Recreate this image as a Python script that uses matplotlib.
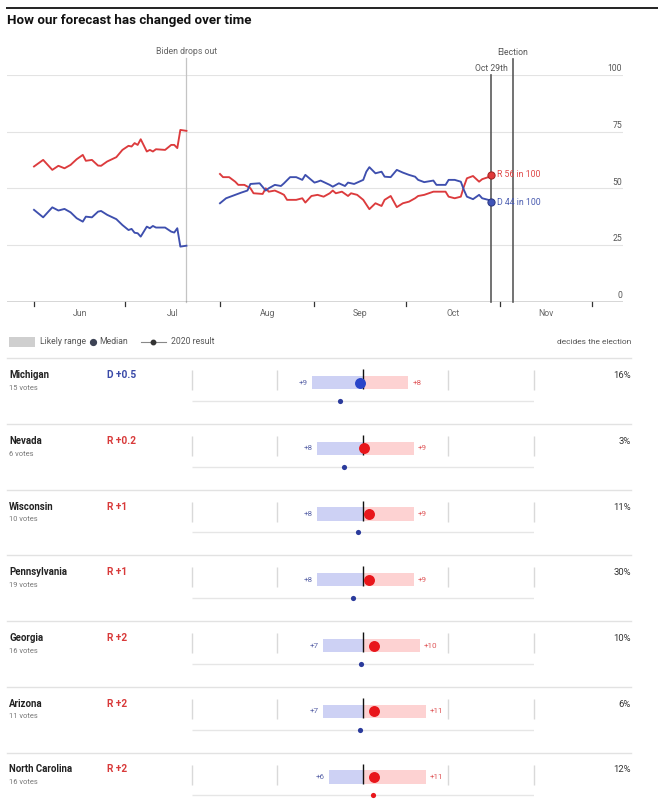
import matplotlib
matplotlib.use("Agg")
import matplotlib.pyplot as plt

plt.rcParams['font.family'] = ['Roboto', 'DejaVu Sans']

# ---------------- data ----------------
# days counted from June 1
month_names = ["Jun", "Jul", "Aug", "Sep", "Oct", "Nov"]
month_starts = [0, 30, 61, 92, 122, 153, 183]
month_mids = [15, 45.5, 76.5, 107, 137.5, 168]

days_1 = [0, 3, 6, 8, 10, 12, 14, 16, 17, 19, 21, 22, 24, 27, 29, 31, 32, 33, 34, 35,
          37, 38, 39, 40, 43, 45, 46, 47, 48, 50]
rep_1 = [59.7, 62.6, 58.2, 60.0, 58.9, 60.4, 62.9, 64.8, 62.2, 62.6, 60.1, 60.0, 61.9, 63.8,
         67.0, 68.8, 68.5, 70.0, 69.2, 71.7, 66.3, 67.0, 66.3, 67.3, 67.0, 69.2, 69.2, 67.8,
         75.8, 75.4]
dem_1 = [40.6, 37.3, 41.7, 40.3, 41.0, 39.5, 36.9, 35.4, 37.6, 37.3, 39.8, 40.1, 38.4, 36.5,
         33.9, 31.7, 32.2, 30.5, 30.3, 28.8, 33.2, 32.5, 33.5, 32.8, 32.8, 31.0, 30.6, 32.5,
         24.4, 24.8]

rep_days_2 = [61, 62, 64, 66, 67, 69, 71, 72, 75, 76, 77, 79, 81, 82, 83, 86, 88, 89, 91, 93,
              95, 97, 98, 99, 101, 103, 104, 106, 108, 110, 112, 114, 115, 117, 119, 121, 123,
              125, 126, 128, 131, 133, 135, 136, 138, 140, 141, 142, 144, 146, 147, 149, 150]
rep_2 = [56.4, 55.0, 55.0, 53.0, 51.6, 51.6, 50.1, 47.9, 47.6, 50.1, 48.6, 49.1, 47.9, 47.2,
         45.0, 45.0, 45.7, 43.8, 46.7, 47.2, 46.4, 47.9, 49.1, 47.9, 48.6, 46.7, 47.9, 47.2,
         45.0, 40.9, 43.5, 42.3, 45.0, 46.7, 41.8, 43.5, 44.2, 45.7, 46.7, 47.2, 48.6, 48.6,
         48.6, 46.4, 45.7, 46.4, 50.8, 54.5, 55.5, 53.0, 54.1, 55.0, 56.0]
dem_days_2 = [61, 63, 66, 68, 70, 71, 74, 76, 77, 79, 81, 82, 84, 86, 88, 89, 92, 93, 94, 97,
              98, 100, 102, 103, 105, 108, 109, 110, 112, 114, 115, 117, 119, 121, 123, 125,
              126, 128, 131, 132, 135, 136, 138, 140, 141, 142, 144, 146, 147, 149, 150]
dem_2 = [43.5, 45.7, 47.2, 48.2, 49.1, 52.0, 52.3, 49.1, 50.1, 51.6, 51.1, 52.3, 55.0, 55.0,
         53.8, 56.0, 52.6, 53.0, 53.5, 51.6, 50.8, 52.3, 51.1, 52.6, 52.0, 53.8, 57.4, 59.4,
         56.7, 57.4, 55.2, 55.0, 58.2, 57.0, 56.0, 55.2, 53.8, 52.8, 53.5, 51.6, 51.6, 53.8,
         53.8, 53.0, 49.4, 46.4, 45.3, 47.2, 45.7, 45.0, 44.0]

final_day = 150
final_rep = 56
final_dem = 44
biden_day = 50
oct29_day = 150
election_day = 157

states = ["Michigan", "Nevada", "Wisconsin", "Pennsylvania", "Georgia", "Arizona",
          "North Carolina"]
electoral_votes = [15, 6, 10, 19, 16, 11, 16]
median_margin = [-0.5, 0.2, 1, 1, 2, 2, 2]      # negative = Democratic lead
range_dem = [9, 8, 8, 8, 7, 7, 6]
range_rep = [8, 9, 9, 9, 10, 11, 11]
result_2020 = [-2.8, -2.4, -0.6, -1.2, -0.2, -0.3, 1.3]
decides_pct = [16, 3, 11, 30, 10, 6, 12]

# ---------------- styles ----------------
RED = '#dc3b3d'
BLUE = '#3e4fae'
W, H = 658, 800
fig = plt.figure(figsize=(W / 100, H / 100), dpi=100)
fig.patch.set_facecolor('white')


def ax_px(x0, y0, x1, y1, **kw):
    a = fig.add_axes([x0 / W, 1 - y1 / H, (x1 - x0) / W, (y1 - y0) / H], **kw)
    a.patch.set_visible(False)
    return a


ov = ax_px(0, 0, W, H)
ov.set_xlim(0, W)
ov.set_ylim(H, 0)
ov.axis('off')

# top rule and title
ov.plot([6, W], [7.5, 7.5], color='#111', lw=1.3, solid_capstyle='butt')
ov.text(7, 20.5, "How our forecast has changed over time", fontsize=9.6, fontweight='bold',
        color='#111', va='center', ha='left')

# ---------------- line chart ----------------
ax = ax_px(7, 75, 623, 302)
ax.set_xlim(-8.86, 193.2)
ax.set_ylim(0, 100)
for s in ax.spines.values():
    s.set_visible(False)
ax.set_xticks([])
ax.set_yticks([])

for v in [25, 50, 75, 100]:
    ax.axhline(v, color='#e3e3e3', lw=0.8, zorder=0)
for v in [0, 25, 50, 75, 100]:
    ax.text(192.9, v + 2.8, str(v), ha='right', va='center', fontsize=6.2, color='#555')
ax.axhline(0, color='#333', lw=1.0, zorder=3)
for d in month_starts:
    ax.plot([d, d], [0, -1.8], color='#333', lw=0.9, clip_on=False)
for d, m in zip(month_mids, month_names):
    ax.text(d, -4.9, m, ha='center', va='center', fontsize=6.2, color='#666')

# event lines
ax.plot([biden_day, biden_day], [0, 107.5], color='#c4c4c4', lw=0.9, clip_on=False, zorder=1)
ax.text(biden_day, 110.2, "Biden drops out", ha='center', va='center', fontsize=6.3,
        color='#666')
ax.plot([oct29_day, oct29_day], [0, 100], color='#5a5a5a', lw=1.2, clip_on=False, zorder=4)
ax.text(oct29_day, 102.9, "Oct 29th", ha='center', va='center', fontsize=6.2, color='#555')
ax.plot([election_day, election_day], [0, 107], color='#5a5a5a', lw=1.2, clip_on=False,
        zorder=4)
ax.text(election_day, 109.9, "Election", ha='center', va='center', fontsize=6.2, color='#555')

ax.plot(days_1, rep_1, color=RED, lw=1.35, zorder=5)
ax.plot(days_1, dem_1, color=BLUE, lw=1.35, zorder=5)
ax.plot(rep_days_2, rep_2, color=RED, lw=1.35, zorder=5)
ax.plot(dem_days_2, dem_2, color=BLUE, lw=1.35, zorder=5)
ax.plot([final_day], [final_rep], 'o', ms=5.2, mfc='#e0393a', mec='#a02020', mew=0.7, zorder=6)
ax.plot([final_day], [final_dem], 'o', ms=5.2, mfc='#4055b8', mec='#2a3680', mew=0.7, zorder=6)
ax.text(final_day + 2, final_rep, f"R {final_rep} in 100", color='#e04848', fontsize=6.3,
        va='center', ha='left', zorder=7)
ax.text(final_day + 2, final_dem, f"D {final_dem} in 100", color='#4a5cb0', fontsize=6.3,
        va='center', ha='left', zorder=7)

# ---------------- legend row ----------------
ov.add_patch(plt.Rectangle((8.5, 337), 26.5, 10, color='#cfcfcf', lw=0))
ov.text(40.5, 342, "Likely range", fontsize=6.2, color='#555', va='center')
ov.plot([93], [342], 'o', ms=4.2, color='#3c4254')
ov.text(99.5, 342, "Median", fontsize=6.2, color='#555', va='center')
ov.plot([141, 166], [342, 342], color='#888', lw=0.8)
ov.plot([153], [342], 'o', ms=3.2, color='#333')
ov.text(171, 342, "2020 result", fontsize=6.2, color='#555', va='center')
ov.text(631, 342, "decides the election", fontsize=6.0, color='#555', va='center', ha='right')

# ---------------- state rows ----------------
ROW0, ROWH = 358.3, 65.7
for i, st in enumerate(states):
    top = ROW0 + ROWH * i
    ov.plot([7, 631], [top, top], color='#e2e2e2', lw=1.0)
    ov.text(9, top + 17, st, fontsize=6.9, fontweight='semibold', color='#222', va='center')
    ov.text(9, top + 30, f"{electoral_votes[i]} votes", fontsize=5.4, color='#777',
            va='center')
    m = median_margin[i]
    lab = f"D +{abs(m):g}" if m < 0 else f"R +{m:g}"
    ov.text(107, top + 17, lab, fontsize=7.3, fontweight='semibold',
            color='#3a4aa8' if m < 0 else '#d83a3a', va='center')
    ov.text(631, top + 17.5, f"{decides_pct[i]}%", fontsize=6.8, color='#333', va='center',
            ha='right')

    a = ax_px(191.7, top, 534, top + ROWH)
    a.set_xlim(-30, 30)
    a.set_ylim(ROWH, 0)
    a.axis('off')
    a.vlines([-30, -15, 15, 30], 12, 32, color='#d9d9d9', lw=1.0, clip_on=False)
    a.barh(24.4, -range_dem[i], left=0, height=13.3, color='#cdd1f4', lw=0)
    a.barh(24.4, range_rep[i], left=0, height=13.3, color='#fdd2d2', lw=0)
    a.vlines(0, 11, 31, color='#111', lw=1.0, zorder=3)
    a.scatter([m], [24.4], s=62, color='#2945c9' if m < 0 else '#e8161b', zorder=4, lw=0)
    a.text(-range_dem[i] - 0.7, 24.4, f"+{range_dem[i]}", ha='right', va='center',
           fontsize=5.9, color='#5a64a8')
    a.text(range_rep[i] + 0.7, 24.4, f"+{range_rep[i]}", ha='left', va='center',
           fontsize=5.9, color='#e0595b')

    b = ax_px(191.7, top, 534, top + ROWH)
    b.set_xlim(-21.4, 21.4)
    b.set_ylim(ROWH, 0)
    b.axis('off')
    b.hlines(42.7, -21.4, 21.4, color='#e6e6e6', lw=1.0, zorder=1)
    r = result_2020[i]
    b.scatter([r], [42.7], s=14, color='#2b3b9c' if r < 0 else '#e8161b', zorder=3, lw=0,
              clip_on=False)

fig.savefig("out.png", dpi=100, facecolor='white')
